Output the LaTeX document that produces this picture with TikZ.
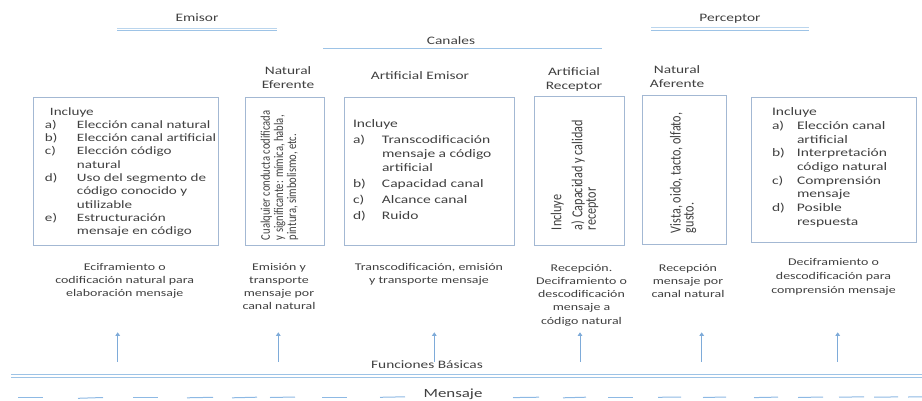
\documentclass[tikz,border=0pt]{standalone}
\usepackage{fontspec}
\setmainfont{Carlito}[FakeStretch=1.35]
\newfontfamily\rotfont{Carlito}
\usetikzlibrary{arrows.meta}
\definecolor{txt}{HTML}{404040}
\definecolor{bline}{HTML}{9DC3E6}
\definecolor{dashc}{HTML}{8DB9E4}
\definecolor{boxc}{HTML}{A3B8D3}
\definecolor{arrc}{HTML}{7EABD9}
\begin{document}
\begin{tikzpicture}[x=1pt,y=-1pt,
  every node/.style={text=txt, inner sep=0pt, outer sep=0pt},
  framebox/.style={draw=boxc, line width=0.8pt, anchor=north west},
  hdr/.style={font=\fontsize{11.4}{14}\selectfont, align=center},
  body/.style={font=\fontsize{11.2}{13.3}\selectfont, anchor=north west, align=left},
  foot/.style={font=\fontsize{10.3}{13.3}\selectfont, anchor=north, align=center},
  rot/.style={rotate=90, anchor=north west},
  lightline/.style={draw=bline, line width=0.7pt},
  sline/.style={draw=bline, line width=1pt},
  uparrow/.style={draw=arrc, line width=0.9pt, -{Triangle[length=3.5pt,width=4.5pt]}},
  dashseg/.style={draw=dashc, line width=1pt}
]
\useasboundingbox (0,0) rectangle (922,400);

% headers
\node[hdr, anchor=base] (emisor) at (197,21) {Emisor};
\draw[lightline, draw opacity=0.7] (117,28) -- (277,28);
\draw[lightline] (117,30.5) -- (277,30.5);
\node[hdr, anchor=base] (canales) at (451,44) {Canales};
\draw[sline] (323,48.5) -- (602,48.5);
\node[hdr, anchor=base] (perceptor) at (730,21) {Perceptor};
\draw[lightline, draw opacity=0.7] (651,27.5) -- (809,27.5);
\draw[lightline] (651,30) -- (809,30);

% labels above boxes
\node[hdr, anchor=north] (lNE) at (288,64.7) {\strut Natural\\Eferente};
\node[hdr, anchor=base] (lAE) at (420,79.5) {Artificial Emisor};
\node[hdr, anchor=north] (lAR) at (574,65.5) {\strut Artificial\\Receptor};
\node[hdr, anchor=north] (lNA) at (677,63.5) {\strut Natural\\Aferente};

% boxes
\node[framebox, minimum width=185pt, minimum height=148pt] (b1) at (33,97) {};
\node[framebox, minimum width=79pt, minimum height=148pt] (b2) at (245,97) {};
\node[framebox, minimum width=170pt, minimum height=148pt] (b3) at (344,97) {};
\node[framebox, minimum width=90pt, minimum height=149pt] (b4) at (534,96) {};
\node[framebox, minimum width=84pt, minimum height=149pt] (b5) at (642,95) {};
\node[framebox, minimum width=165pt, minimum height=145pt] (b6) at (751,97) {};

% box contents
\node[body] (t1) at (45,105.7) {%
\begin{tabular}{@{}p{32pt}@{}l@{}}
\multicolumn{2}{@{\hspace{5pt}}l@{}}{Incluye}\\
a) & Elección canal natural\\
b) & Elección canal artificial\\
c) & Elección código\\
   & natural\\
d) & Uso del segmento de\\
   & código conocido y\\
   & utilizable\\
e) & Estructuración\\
   & mensaje en código
\end{tabular}};

\node[body, font=\fontsize{11.5}{14}\selectfont] (t3) at (353,117.2) {%
\begin{tabular}{@{}p{29pt}@{}l@{}}
\multicolumn{2}{@{}l@{}}{Incluye}\\[2pt]
a) & Transcodificación\\
   & mensaje a código\\
   & artificial\\[2pt]
b) & Capacidad canal\\[2pt]
c) & Alcance canal\\[2pt]
d) & Ruido
\end{tabular}};

\node[body, font=\fontsize{11.5}{13.7}\selectfont] (t6) at (772,106.1) {%
\begin{tabular}{@{}p{25pt}@{}l@{}}
\multicolumn{2}{@{}l@{}}{Incluye}\\
a) & Elección canal\\
   & artificial\\
b) & Interpretación\\
   & código natural\\
c) & Comprensión\\
   & mensaje\\
d) & Posible\\
   & respuesta
\end{tabular}};

% rotated contents
\node[rot, font=\rotfont\fontsize{10.6}{10.4}\selectfont] (t2) at (260.7,240) {%
\lineskiplimit=-8pt\relax\scalebox{1}[1.25]{\begin{tabular}{@{}l@{}}Cualquier conducta codificada\\y significante: mímica, habla,\\pintura, simbolismo, etc.\end{tabular}}};
\node[rot, font=\rotfont\fontsize{12.2}{10.72}\selectfont] (t4) at (550.9,230) {%
\lineskiplimit=-8pt\relax\scalebox{1}[1.25]{\begin{tabular}{@{}l@{}}Incluye\\[4.5pt]a) Capacidad y calidad\\receptor\end{tabular}}};
\node[rot, font=\rotfont\fontsize{12.2}{9.28}\selectfont] (t5) at (670,233) {%
\lineskiplimit=-8pt\relax\scalebox{1}[1.25]{\begin{tabular}{@{}l@{}}Vista, oido, tacto, olfato,\\gusto.\end{tabular}}};

% functions below
\node[foot] (f1) at (124.7,260.7) {\strut Eciframiento o\\codificación natural para\\elaboración mensaje};
\node[foot] (f2) at (279,260.7) {\strut Emisión y\\transporte\\mensaje por\\canal natural};
\node[foot] (f3) at (429,260.7) {\strut Transcodificación, emisión\\y transporte mensaje};
\node[foot] (f4) at (581.5,261.7) {\strut Recepción.\\Deciframiento o\\descodificación\\mensaje a\\código natural};
\node[foot] (f5) at (688,261.7) {\strut Recepción\\mensaje por\\canal natural};
\node[foot, font=\fontsize{10.3}{14}\selectfont] (f6) at (833.5,255.2) {\strut Deciframiento o\\descodificación para\\comprensión mensaje};

% arrows
\foreach \i/\x in {1/117.7,2/278.3,3/434.3,4/580,5/701.7,6/837.7}{
  \coordinate (s\i) at (\x,361.7);
  \coordinate (e\i) at (\x,332.3);
  \draw[uparrow] (s\i) -- (e\i);
}

\node[hdr, anchor=base] (fb) at (427,368) {Funciones Básicas};
\draw[lightline, line width=0.9pt] (11,374.5) -- (922,374.5);
\draw[lightline, line width=0.9pt] (11,377.5) -- (922,377.5);

\node[font=\fontsize{12.5}{14}\selectfont, anchor=base] (msg) at (453,397) {Mensaje};

% dashed line
\foreach \a/\b/\ya/\yb in {18/43/397.5/397.5, 78/103/398.3/397.5, 133/158/397.5/397.5, 187/213/397.8/397.3,
  232/257/397.8/397.2, 270/295/397.5/397, 322/347/397.3/397.3, 380/405/397.3/396.8,
  513/539/397.6/397.2, 563/586/397.8/397.2, 608/633/397.3/397.3, 658/681/397.3/397, 703/726/397.5/397,
  754/778/397.6/397.1, 798/823/397.5/397, 839/864/397.2/396.8, 874/898/397.2/396.9, 908/922/397/396.8}{
  \draw[dashseg] (\a,\ya) -- (\b,\yb);
}
\end{tikzpicture}
\end{document}
